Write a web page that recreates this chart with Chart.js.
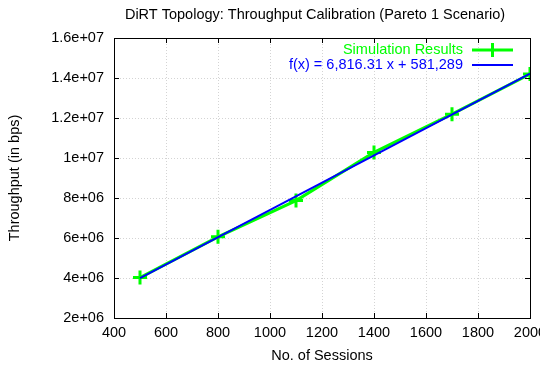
<!DOCTYPE html>
<html>
<head>
<meta charset="utf-8">
<script src="https://cdn.jsdelivr.net/npm/chart.js@4/dist/chart.umd.min.js"></script>
<style>
  html, body { margin: 0; padding: 0; background: #fff; }
  #wrap { width: 540px; height: 378px; position: relative; }
</style>
</head>
<body>
<div id="wrap"><canvas id="c" width="540" height="378"></canvas></div>
<script>
// ---- data ----
const chartTitle = 'DiRT Topology: Throughput Calibration (Pareto 1 Scenario)';
const xAxisTitle = 'No. of Sessions';
const yAxisTitle = 'Throughput (in bps)';
const sessions = [500, 800, 1100, 1400, 1700, 2000];
const throughput = [4020000, 6060000, 7870000, 10280000, 12190000, 14200000];
const fitX = [500, 2000];
const fitY = [3989444, 14213909];
const seriesLabel = 'Simulation Results';
const fitLabel = 'f(x) = 6,816.31 x + 581,289';
const xTickValues = [400, 600, 800, 1000, 1200, 1400, 1600, 1800, 2000];
const yTickValues = [2000000, 4000000, 6000000, 8000000, 10000000, 12000000, 14000000, 16000000];
const yTickLabels = ['2e+06', '4e+06', '6e+06', '8e+06', '1e+07', '1.2e+07', '1.4e+07', '1.6e+07'];

const FONT = 'Liberation Sans, Arial, Helvetica, sans-serif';
const FS = 14.5;
const GREEN = '#00ff00';
const BLUE = '#0000ff';

const framePlugin = {
  id: 'frame',
  afterDraw(chart) {
    const ctx = chart.ctx;
    const a = chart.chartArea;
    const xs = chart.scales.x, ys = chart.scales.y;
    ctx.save();
    ctx.strokeStyle = '#000';
    ctx.lineWidth = 1;
    ctx.beginPath();
    // inward tick marks on all sides
    const tl = 5;
    xTickValues.forEach(v => {
      const px = Math.round(xs.getPixelForValue(v)) + 0.5;
      ctx.moveTo(px, a.bottom); ctx.lineTo(px, a.bottom - tl);
      ctx.moveTo(px, a.top); ctx.lineTo(px, a.top + tl);
    });
    yTickValues.forEach(v => {
      const py = Math.round(ys.getPixelForValue(v)) + 0.5;
      ctx.moveTo(a.left, py); ctx.lineTo(a.left + tl, py);
      ctx.moveTo(a.right, py); ctx.lineTo(a.right - tl, py);
    });
    ctx.stroke();
    ctx.strokeRect(Math.round(a.left) + 0.5, Math.round(a.top) + 0.5,
                   Math.round(a.right - a.left), Math.round(a.bottom - a.top));

    // title
    ctx.fillStyle = '#000';
    ctx.font = FS + 'px ' + FONT;
    ctx.textAlign = 'center';
    ctx.textBaseline = 'middle';
    ctx.fillText(chartTitle, 315, 15);

    // legend
    const textRight = 463, lineL = 472, lineR = 513;
    const rows = [
      {label: seriesLabel, color: GREEN, width: 3, marker: true, y: 50},
      {label: fitLabel, color: BLUE, width: 2, marker: false, y: 65}
    ];
    rows.forEach(r => {
      ctx.fillStyle = r.color;
      ctx.textAlign = 'right';
      ctx.fillText(r.label, textRight, r.y);
      ctx.strokeStyle = r.color;
      ctx.lineWidth = r.width;
      ctx.beginPath();
      ctx.moveTo(lineL, r.y); ctx.lineTo(lineR, r.y);
      if (r.marker) {
        const cx = (lineL + lineR) / 2;
        ctx.moveTo(cx - 7, r.y); ctx.lineTo(cx + 7, r.y);
        ctx.moveTo(cx, r.y - 7); ctx.lineTo(cx, r.y + 7);
      }
      ctx.stroke();
    });
    ctx.restore();
  }
};

new Chart(document.getElementById('c'), {
  type: 'scatter',
  data: {
    datasets: [
      {
        label: fitLabel,
        data: fitX.map((x, i) => ({x: x, y: fitY[i]})),
        showLine: true,
        borderColor: BLUE,
        borderWidth: 2,
        pointRadius: 0,
        fill: false
      },
      {
        label: seriesLabel,
        data: sessions.map((x, i) => ({x: x, y: throughput[i]})),
        showLine: true,
        borderColor: GREEN,
        backgroundColor: GREEN,
        borderWidth: 3,
        pointStyle: 'cross',
        pointRadius: 7,
        pointBorderWidth: 3,
        pointBorderColor: GREEN,
        fill: false
      }
    ]
  },
  options: {
    responsive: false,
    animation: false,
    events: [],
    layout: { padding: { left: 0, right: 9, top: 38, bottom: 0 } },
    plugins: {
      legend: { display: false },
      title: { display: false },
      tooltip: { enabled: false }
    },
    scales: {
      x: {
        type: 'linear',
        min: 400, max: 2000,
        afterBuildTicks: s => { s.ticks = xTickValues.map(v => ({value: v})); },
        afterFit: s => { s.height = 60; s.paddingLeft = 0; s.paddingRight = 0; },
        ticks: {
          color: '#000', font: { family: FONT, size: FS }, padding: 6,
          maxRotation: 0, autoSkip: false,
          callback: v => String(v)
        },
        grid: { color: '#d4d4d4', drawTicks: false, lineWidth: 1 },
        border: { display: false, dash: [1, 2] },
        title: { display: true, text: xAxisTitle, color: '#000',
                 font: { family: FONT, size: FS }, padding: { top: 0, bottom: 13 } }
      },
      y: {
        type: 'linear',
        min: 2000000, max: 16000000,
        afterBuildTicks: s => { s.ticks = yTickValues.map(v => ({value: v})); },
        afterFit: s => { s.width = 114; s.paddingTop = 0; s.paddingBottom = 0; },
        ticks: {
          color: '#000', font: { family: FONT, size: FS }, padding: 10,
          autoSkip: false,
          callback: (v, i) => yTickLabels[yTickValues.indexOf(v)]
        },
        grid: { color: '#d4d4d4', drawTicks: false, lineWidth: 1 },
        border: { display: false, dash: [1, 2] },
        title: { display: true, text: yAxisTitle, color: '#000',
                 font: { family: FONT, size: FS }, padding: { top: 6, bottom: 0 } }
      }
    }
  },
  plugins: [framePlugin]
});
</script>
</body>
</html>
